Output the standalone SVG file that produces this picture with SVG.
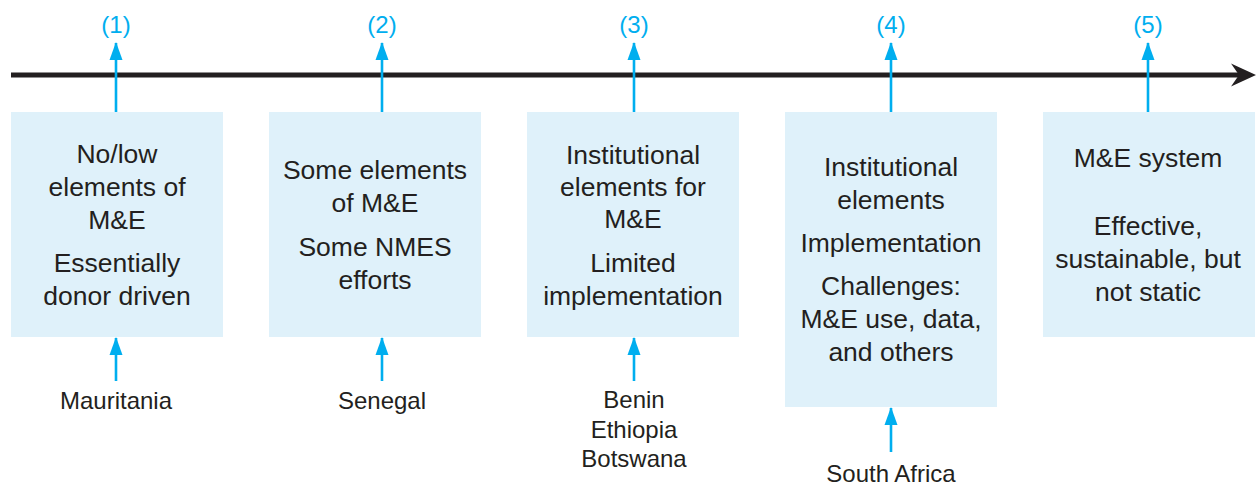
<svg xmlns="http://www.w3.org/2000/svg" width="1256" height="485" viewBox="0 0 1256 485">
  <defs>
    <marker id="blueHead" markerWidth="18" markerHeight="14" refX="17" refY="7" orient="auto" markerUnits="userSpaceOnUse" viewBox="0 0 18 14">
      <path d="M18,7 L0,0.5 L0,13.5 Z" fill="#00aeef"/>
    </marker>
    <style>
      .box { fill: #dff1fa; }
      .txt { font-family: "Liberation Sans", Arial, sans-serif; font-size: 26.5px; fill: #231f20; text-anchor: middle; }
      .lbl { font-family: "Liberation Sans", Arial, sans-serif; font-size: 24px; fill: #231f20; text-anchor: middle; }
      .num { font-family: "Liberation Sans", Arial, sans-serif; font-size: 24px; fill: #00aeef; text-anchor: middle; }
      .up { stroke: #00aeef; stroke-width: 2.6; fill: none; }
      .axis { stroke: #231f20; stroke-width: 5; fill: none; }
    </style>
  </defs>

  <!-- timeline axis -->
  <g id="axis">
    <line class="axis" x1="11" y1="75" x2="1240" y2="75"/>
    <path d="M1256,75 L1231,63.5 L1239,75 L1231,86.5 Z" fill="#231f20"/>
  </g>

  <!-- stage 1 -->
  <g id="stage1">
    <rect class="box" x="11" y="112" width="212" height="225"/>
    <text class="txt" x="117" y="163">No/low</text>
    <text class="txt" x="117" y="196">elements of</text>
    <text class="txt" x="117" y="229">M&amp;E</text>
    <text class="txt" x="117" y="272">Essentially</text>
    <text class="txt" x="117" y="305">donor driven</text>
    <text class="num" x="116" y="33">(1)</text>
    <text class="lbl" x="116" y="409">Mauritania</text>
  </g>

  <!-- stage 2 -->
  <g id="stage2">
    <rect class="box" x="269" y="112" width="212" height="225"/>
    <text class="txt" x="375" y="179">Some elements</text>
    <text class="txt" x="375" y="212">of M&amp;E</text>
    <text class="txt" x="375" y="256">Some NMES</text>
    <text class="txt" x="375" y="289">efforts</text>
    <text class="num" x="382" y="33">(2)</text>
    <text class="lbl" x="382" y="409">Senegal</text>
  </g>

  <!-- stage 3 -->
  <g id="stage3">
    <rect class="box" x="527" y="112" width="212" height="225"/>
    <text class="txt" x="633" y="164">Institutional</text>
    <text class="txt" x="633" y="196">elements for</text>
    <text class="txt" x="633" y="228">M&amp;E</text>
    <text class="txt" x="633" y="272">Limited</text>
    <text class="txt" x="633" y="305">implementation</text>
    <text class="num" x="634" y="33">(3)</text>
    <text class="lbl" x="634" y="408">Benin</text>
    <text class="lbl" x="634" y="438">Ethiopia</text>
    <text class="lbl" x="634" y="467">Botswana</text>
  </g>

  <!-- stage 4 -->
  <g id="stage4">
    <rect class="box" x="785" y="112" width="212" height="295"/>
    <text class="txt" x="891" y="176">Institutional</text>
    <text class="txt" x="891" y="209">elements</text>
    <text class="txt" x="891" y="252">Implementation</text>
    <text class="txt" x="891" y="295">Challenges:</text>
    <text class="txt" x="891" y="328">M&amp;E use, data,</text>
    <text class="txt" x="891" y="361">and others</text>
    <text class="num" x="891" y="33">(4)</text>
    <text class="lbl" x="891" y="482">South Africa</text>
  </g>

  <!-- stage 5 -->
  <g id="stage5">
    <rect class="box" x="1043" y="112" width="212" height="225"/>
    <text class="txt" x="1148" y="167">M&amp;E system</text>
    <text class="txt" x="1148" y="235">Effective,</text>
    <text class="txt" x="1148" y="268">sustainable, but</text>
    <text class="txt" x="1148" y="301">not static</text>
    <text class="num" x="1148" y="33">(5)</text>
  </g>

  <!-- connectors -->
  <g id="connectors">
    <line class="up" x1="116" y1="112" x2="116" y2="43" marker-end="url(#blueHead)"/>
    <line class="up" x1="382" y1="112" x2="382" y2="43" marker-end="url(#blueHead)"/>
    <line class="up" x1="634" y1="112" x2="634" y2="43" marker-end="url(#blueHead)"/>
    <line class="up" x1="891" y1="112" x2="891" y2="43" marker-end="url(#blueHead)"/>
    <line class="up" x1="1148" y1="112" x2="1148" y2="43" marker-end="url(#blueHead)"/>

    <line class="up" x1="116" y1="381" x2="116" y2="338" marker-end="url(#blueHead)"/>
    <line class="up" x1="382" y1="381" x2="382" y2="338" marker-end="url(#blueHead)"/>
    <line class="up" x1="634" y1="381" x2="634" y2="338" marker-end="url(#blueHead)"/>
    <line class="up" x1="891" y1="452" x2="891" y2="408" marker-end="url(#blueHead)"/>
  </g>
</svg>
